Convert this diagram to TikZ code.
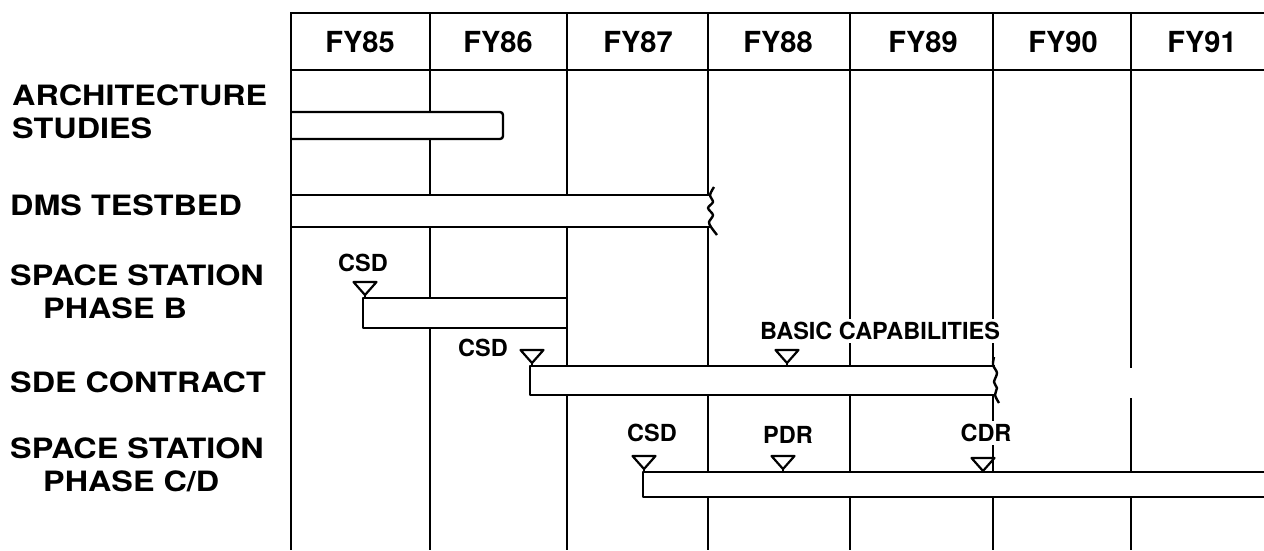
\documentclass[tikz,border=0pt]{standalone}
\usepackage{fontspec}
\setmainfont{TeX Gyre Heros}
\newfontfamily\lblfont[FakeStretch=1.155]{TeX Gyre Heros}
\newcommand\mstone[3]{%
  \draw[tri] ({#1-11.5},#2) -- ({#1+11.5},#2) -- (#1,{#2+13}) -- cycle;
  \draw[bar] (#1,{#2+13}) -- (#1,#3);}
\begin{document}
\begin{tikzpicture}[x=1pt,y=-1pt,
  grid/.style={line width=2pt},
  bar/.style={line width=2.4pt, line join=round},
  tri/.style={line width=2.2pt, fill=white, line join=round},
  row/.style={font=\lblfont\bfseries\fontsize{28}{33}\selectfont, anchor=base west, inner sep=0pt},
  yr/.style={font=\bfseries\fontsize{29}{34}\selectfont, inner sep=0pt},
  ms/.style={font=\bfseries\fontsize{23.5}{27}\selectfont, fill=white, inner sep=3pt}]
\useasboundingbox (0,0) rectangle (1264,550);
% grid
\draw[grid] (1270,13) -- (291,13) -- (291,550);
\draw[grid] (291,70) -- (1270,70);
\foreach \x in {430,567,708,850,993} \draw[grid] (\x,13) -- (\x,550);
\draw[grid] (1131,13) -- (1131,368);
\draw[grid] (1131,398) -- (1131,550);
% year headings
\node[yr] (fy85) at (360,42) {FY85};
\node[yr] (fy86) at (498,42) {FY86};
\node[yr] (fy87) at (638,42) {FY87};
\node[yr] (fy88) at (778,42) {FY88};
\node[yr] (fy89) at (923,42) {FY89};
\node[yr] (fy90) at (1063,42) {FY90};
\node[yr] (fy91) at (1202,42) {FY91};
% row labels
\node[row] (arch1) at (12,105) {ARCHITECTURE};
\node[row] (arch2) at (12,138) {STUDIES};
\node[row] (dms) at (10,215) {DMS TESTBED};
\node[row] (ssb1) at (10,285) {SPACE STATION};
\node[row] (ssb2) at (43,318) {PHASE B};
\node[row] (sde) at (10,392) {SDE CONTRACT};
\node[row] (sscd1) at (10,458) {SPACE STATION};
\node[row] (sscd2) at (43,491) {PHASE C/D};
% architecture studies bar
\fill[white] (293,112) rectangle (503,139);
\draw[bar, rounded corners=3pt] (291,112) -- (503,112) -- (503,139) -- (291,139);
% DMS testbed bar
\fill[white] (293,195) rectangle (711,227);
\draw[bar] (291,195) -- (711,195);
\draw[bar] (291,227) -- (711,227);
\draw[bar] plot[smooth] coordinates {(714,187) (710,195) (713,202) (708,208) (713,215) (709,222) (711,227) (717,235)};
% phase B bar
\filldraw[bar, fill=white] (363,298) rectangle (567,328);
% SDE contract bar
\fill[white] (532,366) rectangle (995,395);
\draw[bar] (995,366) -- (530,366) -- (530,395) -- (995,395);
\draw[bar] plot[smooth] coordinates {(994,357) (993,365) (997,373) (994,382) (997,388) (995,395) (999,403)};
% phase C/D bar
\filldraw[bar, fill=white] (1275,472) -- (643,472) -- (643,497) -- (1275,497);
% milestones
\mstone{365}{282}{298}
\mstone{532}{350}{366}
\mstone{787}{350}{366}
\mstone{644}{456}{472}
\mstone{783}{456}{472}
\mstone{983}{458}{472}
% milestone labels
\node[ms] (csd1) at (363,263) {CSD};
\node[ms] (csd2) at (483,348) {CSD};
\node[ms] (basic) at (880,331) {BASIC CAPABILITIES};
\node[ms] (csd3) at (652,433) {CSD};
\node[ms] (pdr) at (788,435) {PDR};
\node[ms] (cdr) at (986,433) {CDR};
\end{tikzpicture}
\end{document}
